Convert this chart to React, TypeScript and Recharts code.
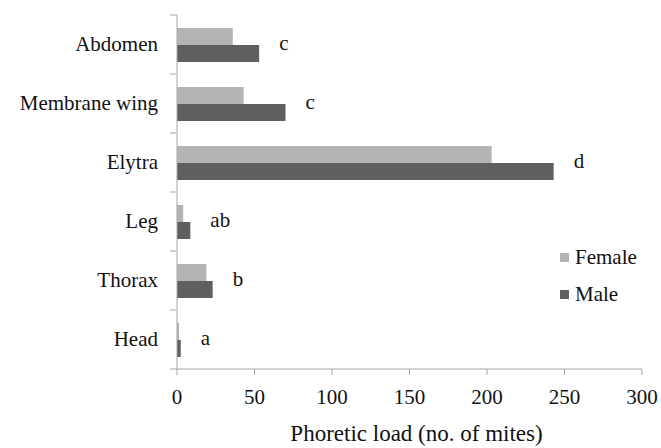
import React from "react";
import { BarChart, Bar, XAxis, YAxis, LabelList } from "recharts";

const categories = ["Abdomen", "Membrane wing", "Elytra", "Leg", "Thorax", "Head"];
const femaleValues = [36, 43, 203, 4, 19, 1.3];
const maleValues = [53, 70, 243, 8.6, 23, 2.4];
const letters = ["c", "c", "d", "ab", "b", "a"];
const xTicks = [0, 50, 100, 150, 200, 250, 300];
const seriesNames = ["Female", "Male"];

const data = categories.map((name, i) => ({
  name,
  Female: femaleValues[i],
  Male: maleValues[i],
}));

const FONT = "Liberation Serif";
const AXIS_COLOR = "#a6a6a6";
const FEMALE_COLOR = "#b4b4b4";
const MALE_COLOR = "#5f5f5f";
const COLORS = [FEMALE_COLOR, MALE_COLOR];
const W = 661;
const H = 448;
const M = { top: 15, right: 19, left: 0, bottom: 0 };
const Y_W = 177;
const X_H = 79;
const BAND = (H - M.top - M.bottom - X_H) / categories.length;

const YTick = (props: any) => {
  const { y, payload, index } = props;
  const ax = Y_W;
  return (
    <g>
      <line x1={ax - 7} x2={ax} y1={y - BAND / 2} y2={y - BAND / 2} stroke={AXIS_COLOR} />
      {index === categories.length - 1 && (
        <line x1={ax - 7} x2={ax} y1={y + BAND / 2} y2={y + BAND / 2} stroke={AXIS_COLOR} />
      )}
      <text x={ax - 19} y={y} dy={6} textAnchor="end" fontFamily={FONT} fontSize={21} fill="#111">
        {payload.value}
      </text>
    </g>
  );
};

const XTick = (props: any) => {
  const { x, payload } = props;
  return (
    <text x={x} y={404} textAnchor="middle" fontFamily={FONT} fontSize={21} fill="#111">
      {payload.value}
    </text>
  );
};

const XTitle = (props: any) => {
  const vb = props.viewBox || {};
  const cx = (vb.x ?? Y_W) + (vb.width ?? 0) / 2 + 7;
  return (
    <text x={cx} y={441} textAnchor="middle" fontFamily={FONT} fontSize={23} fill="#111">
      Phoretic load (no. of mites)
    </text>
  );
};

const LetterLabel = (props: any) => {
  const { x, y, width, index } = props;
  return (
    <text x={x + width + 20} y={y - 1} dy={6} textAnchor="start" fontFamily={FONT} fontSize={21} fill="#111">
      {letters[index]}
    </text>
  );
};

export default function App() {
  return (
    <div style={{ position: "absolute", left: 0, top: 0, width: W, height: H, background: "#fff" }}>
      <BarChart width={W} height={H} data={data} layout="vertical" margin={M} barGap={0}>
        <XAxis
          type="number"
          domain={[0, 300]}
          ticks={xTicks}
          height={X_H}
          stroke={AXIS_COLOR}
          tickSize={6}
          tick={<XTick />}
          label={<XTitle />}
        />
        <YAxis
          type="category"
          dataKey="name"
          width={Y_W}
          stroke={AXIS_COLOR}
          tickLine={false}
          tick={<YTick />}
        />
        <Bar dataKey="Female" fill={FEMALE_COLOR} barSize={17} isAnimationActive={false} />
        <Bar dataKey="Male" fill={MALE_COLOR} barSize={17} isAnimationActive={false}>
          <LabelList dataKey="Male" content={<LetterLabel />} />
        </Bar>
      </BarChart>
      <div
        style={{
          position: "absolute",
          left: 560,
          top: 239,
          fontFamily: FONT,
          fontSize: 21,
          color: "#111",
        }}
      >
        {seriesNames.map((label, i) => (
          <div key={label} style={{ display: "flex", alignItems: "center", height: 37 }}>
            <span style={{ display: "inline-block", width: 9, height: 9, background: COLORS[i], marginRight: 6 }} />
            <span>{label}</span>
          </div>
        ))}
      </div>
    </div>
  );
}
